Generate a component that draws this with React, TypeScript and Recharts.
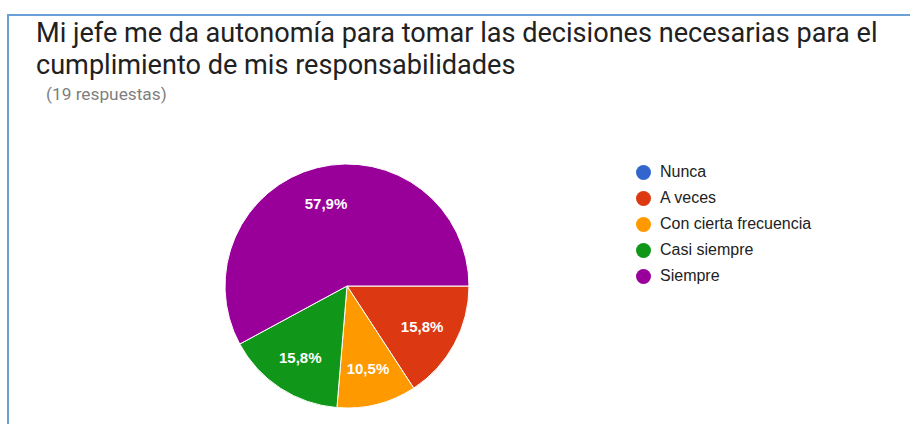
import React from 'react';
import { PieChart, Pie, Cell, Legend } from 'recharts';

const categories = ['Nunca', 'A veces', 'Con cierta frecuencia', 'Casi siempre', 'Siempre'];
const counts = [0, 3, 2, 3, 11];
const colors = ['#3366cc', '#dc3912', '#ff9900', '#109618', '#990099'];
const titleLines = [
  'Mi jefe me da autonomía para tomar las decisiones necesarias para el',
  'cumplimiento de mis responsabilidades',
];
const subtitle = '(19 respuestas)';

const total = counts.reduce((a, b) => a + b, 0);
const data = categories.map((name, i) => ({ name, value: counts[i], color: colors[i] }));

const RAD = Math.PI / 180;
const renderLabel = (props: any) => {
  const { cx, cy, midAngle, outerRadius, value } = props;
  if (!value) return null;
  const r = outerRadius * 0.7;
  const x = cx + r * Math.cos(-midAngle * RAD);
  const y = cy + r * Math.sin(-midAngle * RAD);
  const pct = ((value / total) * 100).toFixed(1).replace('.', ',') + '%';
  return (
    <text x={x} y={y} fill="#ffffff" textAnchor="middle" dominantBaseline="central"
      fontFamily="Arial, 'Liberation Sans', sans-serif" fontSize={15} fontWeight="bold">
      {pct}
    </text>
  );
};

const renderLegend = () => (
  <div style={{ fontFamily: "Arial, 'Liberation Sans', sans-serif", fontSize: 16, color: '#222' }}>
    {data.map((d) => (
      <div key={d.name} style={{ display: 'flex', alignItems: 'center', height: 26 }}>
        <span style={{ display: 'inline-block', width: 15, height: 15, borderRadius: '50%', background: d.color, marginRight: 9 }} />
        <span>{d.name}</span>
      </div>
    ))}
  </div>
);

export default function App() {
  return (
    <div style={{ position: 'absolute', left: 0, top: 0, width: 910, height: 424, overflow: 'hidden', background: '#fff' }}>
      <div style={{ position: 'absolute', left: 7, top: 14, width: 1000, height: 600, borderTop: '2px solid #6aa0d8', borderLeft: '2px solid #6aa0d8' }} />
      <div style={{ position: 'absolute', left: 36, top: 17, fontFamily: "Roboto, Arial, sans-serif", fontSize: 27.1, lineHeight: '32px', color: '#212121', whiteSpace: 'nowrap' }}>
        <div>{titleLines[0]}</div>
        <div>{titleLines[1]}</div>
      </div>
      <div style={{ position: 'absolute', left: 46, top: 84, fontFamily: "Roboto, Arial, sans-serif", fontSize: 17.3, color: '#7f7f7f' }}>
        {subtitle}
      </div>
      <div style={{ position: 'absolute', left: 0, top: 0 }}>
        <PieChart width={910} height={424} margin={{ top: 0, right: 0, bottom: 0, left: 0 }}>
          <Pie data={data} dataKey="value" nameKey="name" cx={347} cy={286} outerRadius={122}
            startAngle={0} endAngle={-360} stroke="#ffffff" strokeWidth={1}
            label={renderLabel} labelLine={false} isAnimationActive={false}>
            {data.map((d) => (
              <Cell key={d.name} fill={d.color} />
            ))}
          </Pie>
          <Legend content={renderLegend} layout="vertical" verticalAlign="top" align="right"
            wrapperStyle={{ left: 636, top: 159, width: 260 }} />
        </PieChart>
      </div>
    </div>
  );
}
